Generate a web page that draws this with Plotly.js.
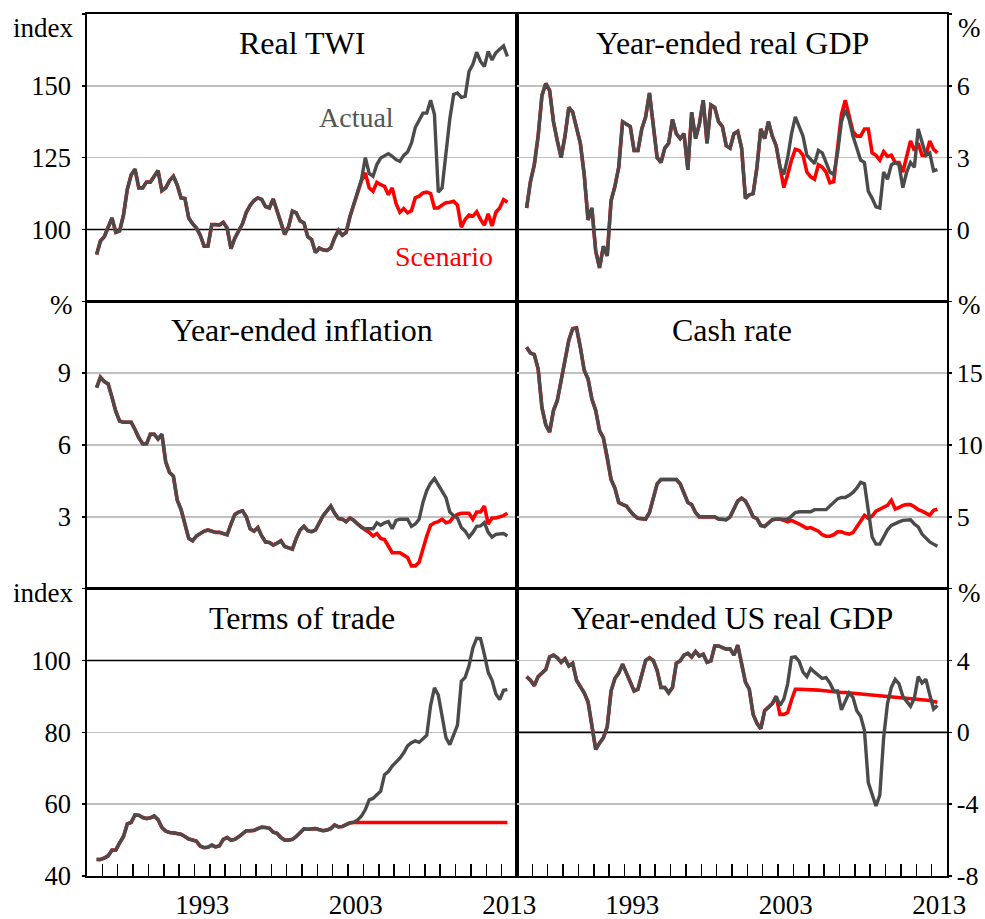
<!DOCTYPE html>
<html>
<head>
<meta charset="utf-8">
<script src="https://cdn.plot.ly/plotly-3.0.1.min.js"></script>
<style>html,body{margin:0;padding:0;background:#fff;}#chart{width:985px;height:919px;}</style>
</head>
<body>
<div id="chart"></div>
<script>
// ---- Period definition: quarterly, 1986Q3 .. 2013Q2 ----
const firstYear = 1986;
const firstQuarter = 3;
const scenarioStartIndex = 66; // 2003Q1

// ---- Real TWI (index) ----
const twiActual = [
  91.3, 96, 97.5, 101, 104, 99, 99.5, 105, 114, 119,
  121, 114.5, 114.5, 116.5, 116.5, 118.5, 120.5, 113.5, 114.5, 117,
  118.5, 115.5, 111, 110.8, 104, 102, 100.5, 98, 94.2, 94.2,
  101.7, 101.7, 101.6, 102.5, 100.5, 93.3, 97, 99.5, 102, 106,
  108.4, 110.1, 111, 110.5, 108, 107.5, 110.6, 106.5, 102.5, 98.3,
  101, 106.4, 105.8, 103, 102.3, 97.5, 96.5, 92, 93.5, 92.9,
  92.7, 93.6, 97.1, 99.7, 98, 99, 104.5, 109, 112.5, 117.5,
  125, 119.5, 118.5, 122.6, 124.9, 125.5, 126.4, 125.5, 124.3, 123.7,
  125.8, 127, 130, 135.5, 138, 140.5, 140.5, 145, 140, 113,
  114.5, 126, 138.5, 147, 147.5, 146, 146.3, 155, 157.5, 161.7,
  158.5, 156.7, 162, 159, 161.5, 162.7, 163.9, 160.2
];
const twiScenario = [
  104.5, 109, 112.5, 117, 119.7, 114.5, 113.3, 116.4, 115.6, 115,
  112.1, 114.5, 109, 106, 107.3, 105.8, 106.5, 111, 111.6, 112.7,
  113, 112.5, 107.5, 107.5, 108.5, 109.3, 109.5, 109.8, 108.5, 100.8,
  103.5, 105, 104.6, 106.2, 103.5, 101.5, 105.5, 101.2, 106, 107.5,
  110.4, 109.5
];

// ---- Year-ended real GDP (%) ----
const gdpActual = [
  0.9, 2.0, 2.7, 3.9, 5.6, 6.1, 5.8, 4.5, 3.7, 3.0,
  3.9, 5.1, 4.9, 4.3, 3.6, 2.3, 0.4, 0.9, -0.9, -1.6,
  -0.7, -1.1, 1.2, 1.8, 2.6, 4.5, 4.4, 4.3, 3.3, 3.3,
  4.2, 4.7, 5.7, 4.4, 3.0, 2.8, 3.4, 3.6, 4.6, 4.0,
  3.8, 4.0, 2.5, 4.9, 3.8, 4.4, 5.4, 3.6, 5.2, 5.1,
  4.5, 4.3, 3.5, 3.4, 4.0, 4.1, 3.4, 1.3, 1.45, 1.5,
  2.6, 4.2, 3.8, 4.5, 3.9, 3.5, 2.6, 2.3, 3.0, 4.0,
  4.7, 4.3, 3.9, 3.1, 2.9, 2.75, 3.3, 3.2, 2.8, 2.4,
  2.3, 3.2, 4.5, 5.0, 4.6, 3.9, 3.4, 2.9, 2.8, 1.6,
  1.3, 0.95, 0.9, 2.4, 2.1, 2.7, 2.8, 2.7, 1.75, 2.4,
  2.8, 2.6, 4.2, 3.6, 3.1, 3.2, 2.45, 2.5
];
const gdpScenario = [
  2.6, 1.75, 2.3, 2.9, 3.35, 3.3, 3.1, 2.4, 2.2, 2.1,
  2.7, 2.6, 2.4, 1.95, 2.0, 3.4, 4.8, 5.4, 4.8, 4.1,
  3.9, 3.9, 4.2, 4.2, 3.2, 3.1, 2.9, 3.25, 3.05, 3.1,
  2.8, 2.8, 2.4, 3.0, 3.7, 3.3, 3.6, 3.1, 3.1, 3.7,
  3.35, 3.2
];

// ---- Year-ended inflation (%) ----
const inflActual = [
  8.4, 8.83, 8.65, 8.55, 8.0, 7.4, 7.0, 6.95, 6.95, 6.95,
  6.65, 6.3, 6.05, 6.05, 6.45, 6.45, 6.25, 6.45, 5.3, 4.85,
  4.7, 3.7, 3.3, 2.7, 2.1, 2.0, 2.2, 2.3, 2.4, 2.45,
  2.4, 2.35, 2.35, 2.3, 2.25, 2.7, 3.1, 3.2, 3.25, 3.0,
  2.5, 2.4, 2.55, 2.2, 1.95, 1.93, 1.82, 1.9, 2.0, 1.76,
  1.7, 1.65, 2.1, 2.45, 2.6, 2.42, 2.38, 2.45, 2.75, 3.05,
  3.25, 3.45, 3.15, 2.93, 2.9, 2.8, 2.95, 2.85, 2.7, 2.55,
  2.5, 2.5, 2.5, 2.75, 2.65, 2.75, 2.8, 2.5, 2.85, 2.9,
  2.9, 2.9, 2.6, 2.7, 2.9, 3.6, 4.1, 4.4, 4.6, 4.35,
  4.1, 3.8, 3.2, 3.05, 2.95, 2.55, 2.4, 2.15, 2.35, 2.6,
  2.62, 2.76, 2.35, 2.15, 2.27, 2.3, 2.3, 2.2
];
const inflScenario = [
  2.95, 2.85, 2.7, 2.55, 2.45, 2.35, 2.2, 2.3, 2.1, 2.05,
  1.75, 1.5, 1.5, 1.5, 1.4, 1.3, 0.95, 0.95, 1.1, 1.7,
  2.2, 2.65, 2.75, 2.8, 2.9, 2.75, 2.8, 3.0, 3.1, 3.15,
  3.15, 3.15, 2.9, 3.2, 3.2, 3.45, 2.7, 2.95, 2.95, 3.0,
  3.05, 3.15
];

// ---- Cash rate (%) ----
const cashActual = [
  16.8, 16.4, 16.3, 15.3, 12.6, 11.4, 10.9, 12.4, 13.1, 14.5,
  16.0, 17.3, 18.1, 18.15, 16.8, 15.2, 14.6, 13.2, 12.4, 11.0,
  10.5, 9.2, 7.6, 7.0, 6.0, 5.85, 5.75, 5.4, 5.1, 4.9,
  4.84, 4.84, 5.3, 6.2, 7.3, 7.6, 7.6, 7.6, 7.6, 7.6,
  7.3, 6.6, 6.0, 5.85, 5.3, 5.0, 5.0, 5.0, 5.0, 5.0,
  4.85, 4.8, 4.8, 5.0, 5.5, 6.1, 6.3, 6.1, 5.6, 5.0,
  4.88, 4.4, 4.33, 4.55, 4.8, 4.84, 4.84, 4.84, 4.84, 5.05,
  5.3, 5.35, 5.35, 5.35, 5.35, 5.5, 5.5, 5.5, 5.5, 5.75,
  6.0, 6.25, 6.35, 6.35, 6.5, 6.7, 7.0, 7.4, 7.3, 5.4,
  3.6, 3.1, 3.1, 3.6, 4.1, 4.4, 4.55, 4.65, 4.75, 4.79,
  4.79, 4.5, 4.3, 3.8, 3.5, 3.25, 3.1, 2.95
];
const cashScenario = [
  4.84, 4.75, 4.65, 4.75, 4.65, 4.5, 4.35, 4.2, 4.25, 4.1,
  4.0, 3.75, 3.65, 3.65, 3.75, 3.95, 3.95, 3.85, 3.8, 3.9,
  4.3, 4.7, 5.1, 4.9, 5.05, 5.4, 5.55, 5.7, 5.8, 6.15,
  5.55, 5.65, 5.8, 5.85, 5.85, 5.7, 5.5, 5.4, 5.25, 5.12,
  5.45, 5.53
];

// ---- Terms of trade (index) ----
const totActual = [
  44.6, 44.6, 45, 45.6, 47.2, 47.2, 49.2, 51, 54.5, 54.9,
  57, 56.9, 56.3, 56.0, 56.2, 56.7, 55.7, 53.5, 52.5, 52.1,
  52.0, 51.7, 51.6, 51, 50.3, 50.0, 49.7, 48.3, 47.9, 48.0,
  48.6, 48.1, 48.4, 50.2, 50.7, 50.0, 50.2, 50.9, 51.8, 52.6,
  52.6, 52.7, 53.2, 53.6, 53.5, 53.3, 52.2, 51.9, 50.7, 50.0,
  50.0, 50.2, 51.0, 52.1, 53.1, 53.0, 53.1, 53.2, 52.9, 52.6,
  52.8, 53.2, 54.2, 53.7, 53.8, 54.3, 54.8, 55.0, 55.6, 56.7,
  58.5, 61.2, 61.6, 62.6, 63.6, 68.2, 69.1, 70.6, 71.6, 72.8,
  74.3, 76.2, 77.1, 77.6, 77.2, 78.2, 79.2, 87.5, 92.4, 90.4,
  84.2, 78.5, 76.6, 79.3, 82.0, 94.2, 95.3, 98.5, 103.5, 106.2,
  106.1, 101.7, 96.7, 94.5, 90.7, 89.1, 91.7, 91.9
];
const totScenario = [
  54.8, 54.9, 54.9, 54.9, 54.9, 54.9, 54.9, 54.9, 54.9, 54.9,
  54.9, 54.9, 54.9, 54.9, 54.9, 54.9, 54.9, 54.9, 54.9, 54.9,
  54.9, 54.9, 54.9, 54.9, 54.9, 54.9, 54.9, 54.9, 54.9, 54.9,
  54.9, 54.9, 54.9, 54.9, 54.9, 54.9, 54.9, 54.9, 54.9, 54.9,
  54.9, 54.9
];

// ---- Year-ended US real GDP (%) ----
const usActual = [
  3.1, 2.9, 2.6, 3.1, 3.3, 3.5, 4.2, 4.3, 4.15, 3.9,
  4.1, 3.7, 3.85, 2.9, 2.55, 2.2, 1.7, 0.5, -0.95, -0.6,
  -0.3, 0.3, 2.3, 3.0, 3.3, 3.8, 3.3, 2.7, 2.3, 2.4,
  3.2, 4.0, 4.15, 4.0, 3.45, 2.5, 2.5, 2.2, 2.5, 3.85,
  3.98, 4.3, 4.4, 4.2, 4.5, 4.25, 4.35, 3.9, 3.98, 4.81,
  4.81, 4.7, 4.63, 4.65, 4.3, 4.85, 3.8, 2.8, 2.4, 1.0,
  0.5, 0.2, 1.2, 1.4, 1.6, 2.0, 1.5, 1.85, 2.7, 4.17,
  4.2, 3.95, 3.35, 3.1, 3.55, 3.35, 3.2, 3.0, 3.05, 2.75,
  2.3, 2.3, 1.25, 1.75, 2.2, 1.95, 1.2, 0.9, 0.1, -2.8,
  -3.4, -4.1, -3.5, -0.3, 1.6, 2.5, 2.95, 2.7, 2.0, 1.7,
  1.45, 1.9, 3.1, 2.75, 2.96, 2.1, 1.3, 1.5
];
const usScenario = [
  1.0, 1.0, 1.1, 1.8, 2.4, 2.4, 2.4, 2.4, 2.38, 2.36,
  2.35, 2.33, 2.3, 2.3, 2.28, 2.25, 2.22, 2.22, 2.2, 2.2,
  2.18, 2.15, 2.12, 2.1, 2.08, 2.05, 2.02, 2.0, 1.98, 1.96,
  1.95, 1.93, 1.92, 1.9, 1.88, 1.86, 1.85, 1.83, 1.8, 1.77,
  1.72, 1.68
];

// ---- Titles and axis labels ----
const panelTitles = ['Real TWI', 'Year-ended real GDP', 'Year-ended inflation', 'Cash rate', 'Terms of trade', 'Year-ended US real GDP'];
const unitLabels = ['index', '%', '%', '%', 'index', '%'];
const yRanges = [[75, 175], [-3, 9], [0, 12], [0, 20], [40, 120], [-8, 8]];
const yTickVals = [[75, 100, 125, 150, 175], [-3, 0, 3, 6, 9], [0, 3, 6, 9, 12], [0, 5, 10, 15, 20], [40, 60, 80, 100, 120], [-8, -4, 0, 4, 8]];
const yTickText = [['', '100', '125', '150', ''], ['', '0', '3', '6', ''], ['', '3', '6', '9', ''], ['', '5', '10', '15', ''], ['40', '60', '80', '100', ''], ['-8', '-4', '0', '4', '']];
const baseLines = [100, 0, null, null, 100, 0];
const xRange = [1986, 2014];
const yearLabelVals = [1993.5, 2003.5, 2013.5];
const yearLabelText = ['1993', '2003', '2013'];

// ---- Build ----
const FONT = '"Liberation Serif", "Times New Roman", Times, serif';
const GREY = '#4b4b4b';
const RED = '#ff0000';

function periodX(i) {
  const q0 = firstYear * 4 + (firstQuarter - 1) + i;
  const y = Math.floor(q0 / 4);
  const q = (q0 % 4) + 1;
  return y + (q - 0.5) / 4;
}

const actuals = [twiActual, gdpActual, inflActual, cashActual, totActual, usActual];
const scenarios = [twiScenario, gdpScenario, inflScenario, cashScenario, totScenario, usScenario];

const data = [];
actuals.forEach((act, k) => {
  const xs = act.map((_, i) => periodX(i));
  const scenFull = act.slice(0, scenarioStartIndex).concat(scenarios[k]);
  const sfx = k === 0 ? '' : String(k + 1);
  data.push({
    x: scenFull.map((_, i) => periodX(i)), y: scenFull, type: 'scatter', mode: 'lines',
    xaxis: 'x' + sfx, yaxis: 'y' + sfx, name: 'Scenario',
    line: {color: RED, width: 3.6}, hoverinfo: 'skip', showlegend: false
  });
  data.push({
    x: xs, y: act, type: 'scatter', mode: 'lines',
    xaxis: 'x' + sfx, yaxis: 'y' + sfx, name: 'Actual',
    line: {color: GREY, width: 3.4}, hoverinfo: 'skip', showlegend: false
  });
});

const layout = {
  width: 985, height: 919,
  margin: {l: 87, r: 38, t: 14, b: 43},
  paper_bgcolor: '#ffffff', plot_bgcolor: 'rgba(0,0,0,0)',
  font: {family: FONT, size: 27, color: '#000'},
  showlegend: false,
  annotations: [], shapes: []
};

const xDomains = [[0, 0.5], [0.5, 1]];
const yDomains = [[2 / 3, 1], [1 / 3, 2 / 3], [0, 1 / 3]];

for (let k = 0; k < 6; k++) {
  const col = k % 2, row = Math.floor(k / 2);
  const sfx = k === 0 ? '' : String(k + 1);
  const isBottom = row === 2;
  const xa = {
    domain: xDomains[col], anchor: 'y' + sfx, range: xRange,
    showgrid: false, zeroline: false,
    showline: true, mirror: true, linecolor: '#000', linewidth: 1.6,
    fixedrange: true
  };
  if (isBottom) {
    Object.assign(xa, {
      tickmode: 'array', tickvals: yearLabelVals, ticktext: yearLabelText,
      ticks: 'inside', ticklen: 0, ticklabelstandoff: 4,
      tickfont: {family: FONT, size: 27, color: '#000'},
      minor: {tickmode: 'linear', tick0: 1986, dtick: 1, ticks: 'inside', ticklen: 12, tickwidth: 1.5, tickcolor: '#000', showgrid: false}
    });
  } else {
    Object.assign(xa, {showticklabels: false, ticks: ''});
  }
  const ya = {
    domain: yDomains[row], anchor: 'x' + sfx, range: yRanges[k],
    side: col === 0 ? 'left' : 'right',
    tickmode: 'array', tickvals: yTickVals[k], ticktext: yTickText[k],
    ticks: 'outside', ticklen: 3, tickwidth: 1.5, tickcolor: '#000',
    showgrid: true, gridcolor: '#c0c0c0', gridwidth: 1.5, zeroline: false,
    showline: true, mirror: true, linecolor: '#000', linewidth: 1.6,
    tickfont: {family: FONT, size: col === 0 ? 26.5 : 26, color: '#000'},
    ticklabelstandoff: col === 0 ? 6 : 0,
    fixedrange: true
  };
  layout['xaxis' + sfx] = xa;
  layout['yaxis' + sfx] = ya;

  // panel title
  layout.annotations.push({
    text: panelTitles[k], xref: 'x' + sfx + ' domain', yref: 'y' + sfx + ' domain',
    x: 0.5, y: 1 - 29 / 287.33, xanchor: 'center', yanchor: 'middle', showarrow: false,
    font: {family: FONT, size: 32, color: '#000'}
  });
  // unit label
  const uy = row === 0 ? 1 - 14 / 287.33 : 1 - 4 / 287.33;
  layout.annotations.push({
    text: unitLabels[k], xref: 'paper', yref: 'y' + sfx + ' domain',
    x: col === 0 ? -12 / 860 : 1 + 9 / 860, y: uy,
    xanchor: col === 0 ? 'right' : 'left', yanchor: 'middle', showarrow: false,
    font: {family: FONT, size: 27, color: '#000'}
  });
  // black base line (drawn between grid and data)
  if (baseLines[k] !== null) {
    layout.shapes.push({
      type: 'line', xref: 'x' + sfx, yref: 'y' + sfx,
      x0: xRange[0], x1: xRange[1], y0: baseLines[k], y1: baseLines[k],
      line: {color: '#000', width: 1.6}, layer: 'between'
    });
  }
}

// series labels in the Real TWI panel
layout.annotations.push({
  text: 'Actual', xref: 'x', yref: 'y', x: 2003.58, y: 139, showarrow: false,
  xanchor: 'center', yanchor: 'middle', font: {family: FONT, size: 28, color: '#555555'}
});
layout.annotations.push({
  text: 'Scenario', xref: 'x', yref: 'y', x: 2009.24, y: 90.6, showarrow: false,
  xanchor: 'center', yanchor: 'middle', font: {family: FONT, size: 28, color: RED}
});

Plotly.newPlot('chart', data, layout, {staticPlot: true, displayModeBar: false});
</script>
</body>
</html>
